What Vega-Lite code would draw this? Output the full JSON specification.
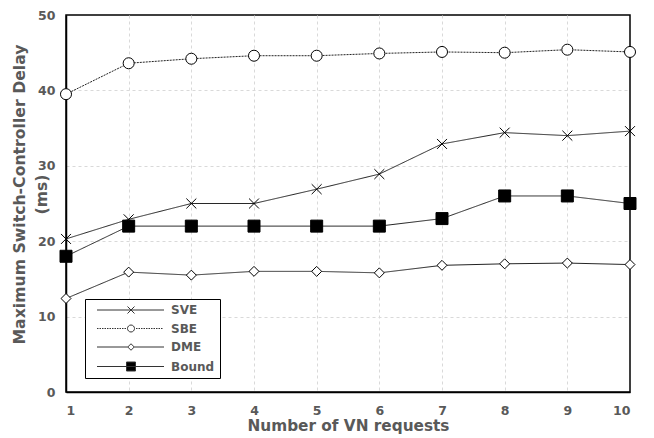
{
  "$schema": "https://vega.github.io/schema/vega-lite/v6.json",
  "width": 564,
  "height": 377,
  "autosize": "none",
  "padding": {"left": 66, "top": 15, "right": 24, "bottom": 46},
  "background": "white",
  "config": {
    "font": "DejaVu Sans",
    "view": {"stroke": "black", "strokeWidth": 1.5},
    "axis": {
      "labelFont": "DejaVu Sans",
      "labelFontWeight": "bold",
      "labelColor": "#595959",
      "labelFontSize": 12.5,
      "titleFont": "DejaVu Sans",
      "titleFontWeight": "bold",
      "titleColor": "#595959",
      "domainColor": "black",
      "domainWidth": 1.5,
      "gridColor": "#d9d9d9",
      "gridDash": [3, 3],
      "gridWidth": 1,
      "ticks": false
    }
  },
  "data": {
    "values": [
      {"n": 1, "series": "SVE", "value": 20.3},
      {"n": 2, "series": "SVE", "value": 22.9},
      {"n": 3, "series": "SVE", "value": 25.0},
      {"n": 4, "series": "SVE", "value": 25.0},
      {"n": 5, "series": "SVE", "value": 26.9},
      {"n": 6, "series": "SVE", "value": 28.9},
      {"n": 7, "series": "SVE", "value": 32.9},
      {"n": 8, "series": "SVE", "value": 34.4},
      {"n": 9, "series": "SVE", "value": 34.0},
      {"n": 10, "series": "SVE", "value": 34.6},
      {"n": 1, "series": "SBE", "value": 39.5},
      {"n": 2, "series": "SBE", "value": 43.6},
      {"n": 3, "series": "SBE", "value": 44.2},
      {"n": 4, "series": "SBE", "value": 44.6},
      {"n": 5, "series": "SBE", "value": 44.6},
      {"n": 6, "series": "SBE", "value": 44.9},
      {"n": 7, "series": "SBE", "value": 45.1},
      {"n": 8, "series": "SBE", "value": 45.0},
      {"n": 9, "series": "SBE", "value": 45.4},
      {"n": 10, "series": "SBE", "value": 45.1},
      {"n": 1, "series": "DME", "value": 12.4},
      {"n": 2, "series": "DME", "value": 15.9},
      {"n": 3, "series": "DME", "value": 15.5},
      {"n": 4, "series": "DME", "value": 16.0},
      {"n": 5, "series": "DME", "value": 16.0},
      {"n": 6, "series": "DME", "value": 15.8},
      {"n": 7, "series": "DME", "value": 16.8},
      {"n": 8, "series": "DME", "value": 17.0},
      {"n": 9, "series": "DME", "value": 17.1},
      {"n": 10, "series": "DME", "value": 16.9},
      {"n": 1, "series": "Bound", "value": 18},
      {"n": 2, "series": "Bound", "value": 22},
      {"n": 3, "series": "Bound", "value": 22},
      {"n": 4, "series": "Bound", "value": 22},
      {"n": 5, "series": "Bound", "value": 22},
      {"n": 6, "series": "Bound", "value": 22},
      {"n": 7, "series": "Bound", "value": 23},
      {"n": 8, "series": "Bound", "value": 26},
      {"n": 9, "series": "Bound", "value": 26},
      {"n": 10, "series": "Bound", "value": 25}
    ]
  },
  "encoding": {
    "x": {
      "field": "n",
      "type": "quantitative",
      "scale": {"domain": [1, 10], "nice": false, "zero": false},
      "axis": {
        "values": [1, 2, 3, 4, 5, 6, 7, 8, 9, 10],
        "title": "Number of VN requests",
        "titleFontSize": 15.3,
        "labelPadding": 12,
        "titlePadding": 2,
        "gridOpacity": {"condition": {"test": "datum.value === 1 || datum.value === 10", "value": 0}, "value": 1}
      }
    },
    "y": {
      "field": "value",
      "type": "quantitative",
      "scale": {"domain": [0, 50], "nice": false},
      "axis": {
        "values": [0, 10, 20, 30, 40, 50],
        "title": ["Maximum Switch-Controller Delay", "(ms)"],
        "titleFontSize": 15.7,
        "titleLineHeight": 22,
        "titleY": 179,
        "labelPadding": 11,
        "titlePadding": -12,
        "gridOpacity": {"condition": {"test": "datum.value === 0 || datum.value === 50", "value": 0}, "value": 1}
      }
    }
  },
  "resolve": {
    "scale": {"shape": "independent", "fill": "independent"},
    "legend": {"shape": "independent", "fill": "independent"}
  },
  "layer": [
    {
      "mark": {"type": "line", "color": "#222", "strokeWidth": 1},
      "encoding": {
        "detail": {"field": "series", "type": "nominal"},
        "strokeDash": {
          "field": "series",
          "type": "nominal",
          "scale": {"domain": ["SBE", "SVE", "DME", "Bound"], "range": [[2, 1], [1, 0], [1, 0], [1, 0]]},
          "legend": null
        }
      }
    },
    {
      "mark": {"type": "point", "filled": true, "stroke": "black", "strokeWidth": 1, "size": 144, "opacity": 1},
      "encoding": {
        "fill": {
          "field": "series",
          "type": "nominal",
          "scale": {"domain": ["Bound", "SVE", "SBE", "DME"], "range": ["black", "white", "white", "white"]},
          "legend": null
        },
        "shape": {
          "field": "series",
          "type": "nominal",
          "scale": {
            "domain": ["SVE", "SBE", "DME", "Bound"],
            "range": [
              "M-0.83,-0.83L0.83,0.83M-0.83,0.83L0.83,-0.83",
              "M0.92,0A0.92,0.92 0 1,1 -0.92,0A0.92,0.92 0 1,1 0.92,0Z",
              "M0,-0.83L0.83,0L0,0.83L-0.83,0Z",
              "M-1,-1H1V1H-1Z"
            ]
          },
          "legend": null
        }
      }
    },
    {
      "mark": {"type": "point", "filled": true, "stroke": "#333", "strokeWidth": 1, "size": 100, "opacity": 0},
      "encoding": {
        "fill": {
          "field": "series",
          "type": "nominal",
          "scale": {"domain": ["SVE", "SBE", "DME", "Bound"], "range": ["white", "white", "white", "black"]},
          "legend": {
            "title": null,
            "orient": "none",
            "legendX": 19,
            "legendY": 284,
            "direction": "vertical",
            "strokeColor": "black",
            "fillColor": "white",
            "padding": 5,
            "symbolSize": 100,
            "symbolOpacity": 1,
            "symbolStrokeWidth": 1,
            "labelFont": "DejaVu Sans",
            "labelFontWeight": "bold",
            "labelFontSize": 12,
            "labelColor": "#595959",
            "labelOffset": 69,
            "rowPadding": 6.5
          }
        },
        "shape": {
          "field": "series",
          "type": "nominal",
          "scale": {
            "domain": ["SVE", "SBE", "DME", "Bound"],
            "range": [
              "M0.2,0H13.6M6.3,-0.7L7.7,0.7M6.3,0.7L7.7,-0.7",
              "M0.2,0H0.5M0.7,0H1.0M1.2,0H1.5M1.7,0H2.0M2.2,0H2.5M2.7,0H3.0M3.2,0H3.5M3.7,0H4.0M4.2,0H4.5M4.7,0H5.0M5.2,0H5.5M5.7,0H6.0M8.0,0H8.3M8.5,0H8.8M9.0,0H9.3M9.5,0H9.8M10.0,0H10.3M10.5,0H10.8M11.0,0H11.3M11.5,0H11.8M12.0,0H12.3M12.5,0H12.8M13.0,0H13.3M7.7,0A0.7,0.7 0 1,1 6.3,0A0.7,0.7 0 1,1 7.7,0Z",
              "M0.2,0H6.35M7.65,0H13.6M7.0,-0.65L7.65,0L7.0,0.65L6.35,0Z",
              "M0.2,0H13.6M6.1,-0.9H7.9V0.9H6.1Z"
            ]
          },
          "legend": {
            "title": null,
            "orient": "none",
            "legendX": 19,
            "legendY": 284,
            "direction": "vertical",
            "strokeColor": "black",
            "fillColor": "white",
            "padding": 5,
            "symbolSize": 100,
            "symbolOpacity": 1,
            "symbolStrokeWidth": 1,
            "labelFont": "DejaVu Sans",
            "labelFontWeight": "bold",
            "labelFontSize": 12,
            "labelColor": "#595959",
            "labelOffset": 69,
            "rowPadding": 6.5
          }
        }
      }
    }
  ]
}
